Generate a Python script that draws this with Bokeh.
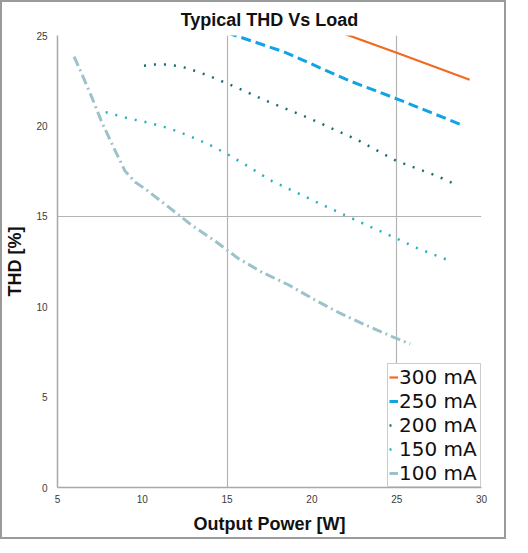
from bokeh.plotting import figure
from bokeh.models import Range1d, FixedTicker, Legend, LegendItem
from bokeh.embed import file_html
from bokeh.resources import INLINE

# ---- data ----
x_300 = [21.0, 25.0, 29.3]
y_300 = [25.4, 24.05, 22.55]

x_250 = [15.0, 18.35, 22.2, 25.0, 28.85]
y_250 = [25.15, 24.1, 22.5, 21.5, 20.05]

x_200 = [10.1, 10.71, 11.36, 11.99, 12.62, 13.79, 14.97, 16.1, 17.17, 19.9, 22.67, 25.0, 27.3, 28.5]
y_200 = [23.33, 23.39, 23.39, 23.33, 23.2, 22.82, 22.36, 21.9, 21.44, 20.4, 19.23, 18.06, 17.26, 16.75]

x_150 = [7.84, 9.04, 10.3, 11.54, 12.71, 13.85, 14.97, 16.05, 17.56, 20.7, 23.26, 25.0, 26.1, 28.26]
y_150 = [20.76, 20.45, 20.19, 19.88, 19.47, 19.01, 18.46, 17.87, 16.99, 15.6, 14.5, 13.77, 13.28, 12.49]

x_100 = [5.98, 6.39, 7.02, 7.61, 8.3, 8.98, 9.57, 10.22, 11.54, 12.91, 14.28, 15.66, 17.07,
         18.64, 20.11, 21.59, 23.16, 24.73, 25.8]
y_100 = [23.83, 22.97, 21.59, 20.21, 18.83, 17.51, 16.9, 16.48, 15.52, 14.51, 13.64, 12.67, 11.9,
         11.2, 10.41, 9.67, 8.99, 8.35, 7.94]

labels = ["300 mA", "250 mA", "200 mA", "150 mA", "100 mA"]
x_ticks = [5, 10, 15, 20, 25, 30]
y_ticks = [0, 5, 10, 15, 20, 25]

FONT = "Liberation Sans"

p = figure(width=506, height=539, output_backend="svg", toolbar_location=None,
           x_range=Range1d(5, 30), y_range=Range1d(0, 25),
           title="Typical THD Vs Load",
           min_border_left=55, min_border_right=27, min_border_top=31, min_border_bottom=54)
p.styles = {"border": "2px solid #9a9a9a"}
p.outline_line_color = None
p.background_fill_color = "white"

p.title.align = "center"
p.title.text_font = FONT
p.title.text_font_size = "18px"
p.title.text_font_style = "bold"
p.title.text_color = "#111111"
p.title.standoff = 11
p.title.offset = 0

p.xaxis.ticker = FixedTicker(ticks=x_ticks)
p.yaxis.ticker = FixedTicker(ticks=y_ticks)
for ax in (p.xaxis[0], p.yaxis[0]):
    ax.major_tick_out = 0
    ax.major_tick_in = 0
    ax.minor_tick_out = 0
    ax.minor_tick_in = 0
    ax.axis_line_color = "#a8a8a8"
    ax.axis_line_width = 1.5
    ax.major_label_text_font = FONT
    ax.major_label_text_font_size = "10px"
    ax.major_label_text_color = "#3a3a3a"
    ax.axis_label_text_font = FONT
    ax.axis_label_text_font_size = "18px"
    ax.axis_label_text_font_style = "bold"
    ax.axis_label_text_color = "#111111"
p.xaxis.axis_label = "Output Power [W]"
p.yaxis.axis_label = "THD [%]"
p.xaxis.major_label_standoff = 7
p.xaxis.axis_label_standoff = 8
p.yaxis.major_label_standoff = 10
p.yaxis.axis_label_standoff = 8

p.xgrid.ticker = FixedTicker(ticks=[15, 25])
p.ygrid.ticker = FixedTicker(ticks=[15])
p.xgrid.grid_line_color = "#b4b4b4"
p.ygrid.grid_line_color = "#b4b4b4"
p.xgrid.grid_line_width = 1.2
p.ygrid.grid_line_width = 1.2

r300 = p.line(x_300, y_300, line_color="#f26a22", line_width=2.2)
r250 = p.line(x_250, y_250, line_color="#12a3e6", line_width=3, line_dash="10 5")
r200 = p.line(x_200, y_200, line_color="#1c6c78", line_width=2.5, line_dash="2 8")
r150 = p.line(x_150, y_150, line_color="#1fb3bf", line_width=2.5, line_dash="2 8")
r100 = p.line(x_100, y_100, line_color="#9cc3cb", line_width=3, line_dash="10 4 2 4")

legend = Legend(items=[LegendItem(label=l, renderers=[r]) for l, r in
                       zip(labels, [r300, r250, r200, r150, r100])],
                location="bottom_right")
legend.label_text_font = "DejaVu Sans"
legend.label_text_font_size = "20px"
legend.label_text_color = "#111111"
legend.glyph_width = 9
legend.glyph_height = 18
legend.label_standoff = 1
legend.label_height = 18
legend.label_width = 80
legend.spacing = 0
legend.padding = 1
legend.margin = 0
legend.border_line_color = "#9a9a9a"
legend.border_line_width = 1.5
legend.background_fill_alpha = 1
p.add_layout(legend)

open("out.html", "w").write(file_html(p, INLINE))
